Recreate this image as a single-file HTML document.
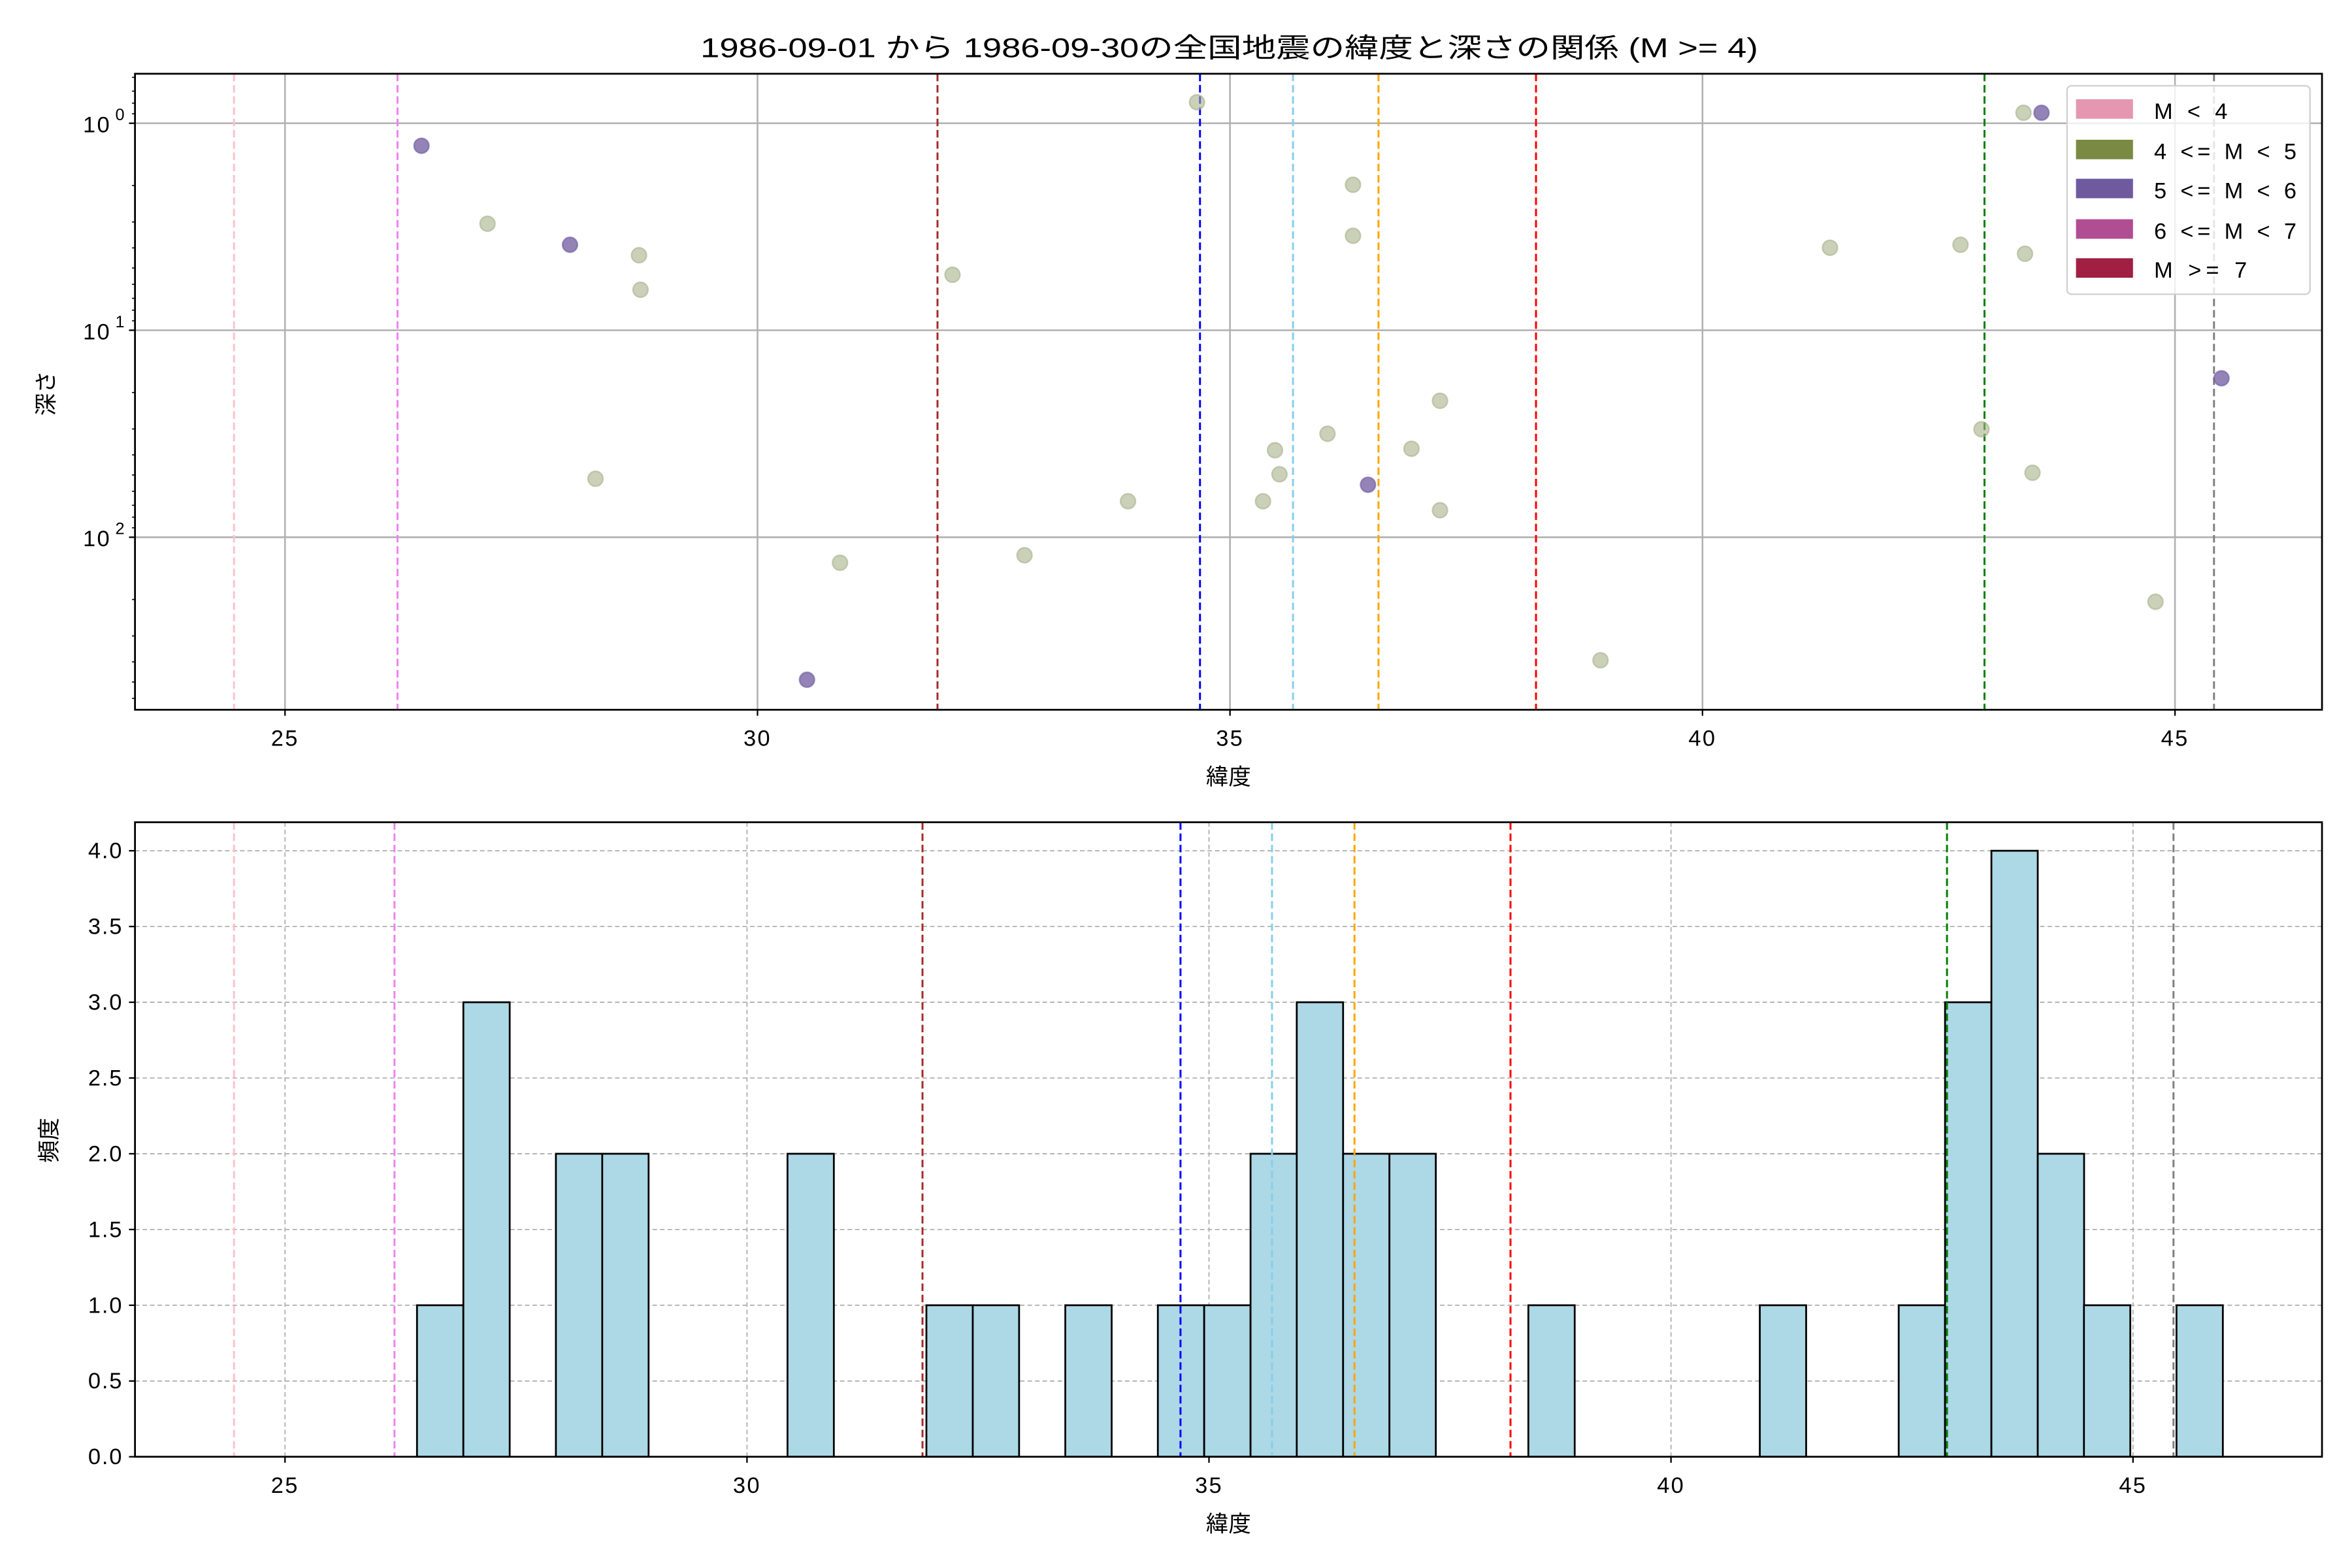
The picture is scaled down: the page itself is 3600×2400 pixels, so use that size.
<!DOCTYPE html>
<html><head><meta charset="utf-8"><style>html,body{margin:0;padding:0;background:#fff}svg{display:block}</style></head>
<body>
<svg xmlns="http://www.w3.org/2000/svg" width="3600" height="2400" viewBox="0 0 1568 1045" font-family="'Liberation Sans','Noto Sans CJK JP',sans-serif">
<rect width="1568" height="1045" fill="#fff"/>
<text x="467" y="38" font-size="18" textLength="705" lengthAdjust="spacingAndGlyphs">1986-09-01 から 1986-09-30の全国地震の緯度と深さの関係 (M &gt;= 4)</text>

<!-- TOP AXES -->
<g stroke="#b0b0b0" stroke-width="1.1">
<line x1="190" y1="49" x2="190" y2="473"/><line x1="505" y1="49" x2="505" y2="473"/><line x1="820" y1="49" x2="820" y2="473"/><line x1="1135" y1="49" x2="1135" y2="473"/><line x1="1450" y1="49" x2="1450" y2="473"/>
<line x1="90" y1="82" x2="1548" y2="82"/><line x1="90" y1="220" x2="1548" y2="220"/><line x1="90" y1="358" x2="1548" y2="358"/>
</g>
<g stroke-width="1.3" stroke-dasharray="5,2.5" fill="none">
<line x1="156" y1="49" x2="156" y2="473" stroke="pink"/>
<line x1="265" y1="49" x2="265" y2="473" stroke="violet"/>
<line x1="625" y1="49" x2="625" y2="473" stroke="brown"/>
<line x1="800" y1="49" x2="800" y2="473" stroke="blue"/>
<line x1="862" y1="49" x2="862" y2="473" stroke="skyblue"/>
<line x1="919" y1="49" x2="919" y2="473" stroke="orange"/>
<line x1="1024" y1="49" x2="1024" y2="473" stroke="red"/>
<line x1="1323" y1="49" x2="1323" y2="473" stroke="green"/>
<line x1="1476" y1="49" x2="1476" y2="473" stroke="gray"/>
</g>
<g fill="#a8b08a" fill-opacity="0.6" stroke="#a8b08a" stroke-opacity="0.6">
<circle cx="325" cy="149" r="5"/><circle cx="426" cy="170" r="5"/><circle cx="427" cy="193" r="5"/><circle cx="397" cy="319" r="5"/><circle cx="560" cy="375" r="5"/><circle cx="635" cy="183" r="5"/><circle cx="683" cy="370" r="5"/><circle cx="752" cy="334" r="5"/><circle cx="798" cy="68" r="5"/><circle cx="902" cy="123" r="5"/><circle cx="902" cy="157" r="5"/><circle cx="885" cy="289" r="5"/><circle cx="850" cy="300" r="5"/><circle cx="853" cy="316" r="5"/><circle cx="842" cy="334" r="5"/><circle cx="941" cy="299" r="5"/><circle cx="960" cy="267" r="5"/><circle cx="960" cy="340" r="5"/><circle cx="1067" cy="440" r="5"/><circle cx="1220" cy="165" r="5"/><circle cx="1307" cy="163" r="5"/><circle cx="1349" cy="75" r="5"/><circle cx="1350" cy="169" r="5"/><circle cx="1321" cy="286" r="5"/><circle cx="1355" cy="315" r="5"/><circle cx="1437" cy="401" r="5"/>
</g>
<g fill="#6f5a9f" fill-opacity="0.75" stroke="#6f5a9f" stroke-opacity="0.6">
<circle cx="281" cy="97" r="5"/><circle cx="380" cy="163" r="5"/><circle cx="538" cy="453" r="5"/><circle cx="912" cy="323" r="5"/><circle cx="1361" cy="75" r="5"/><circle cx="1481" cy="252" r="5"/>
</g>
<rect x="90" y="49" width="1458" height="424" fill="none" stroke="#000" stroke-width="1.2"/>
<g stroke="#000" stroke-width="1">
<line x1="190" y1="473" x2="190" y2="477"/><line x1="505" y1="473" x2="505" y2="477"/><line x1="820" y1="473" x2="820" y2="477"/><line x1="1135" y1="473" x2="1135" y2="477"/><line x1="1450" y1="473" x2="1450" y2="477"/>
<line x1="86" y1="82" x2="90" y2="82"/><line x1="86" y1="220" x2="90" y2="220"/><line x1="86" y1="358" x2="90" y2="358"/>
</g>
<g stroke="#000" stroke-width="0.7">
<line x1="88" y1="51.4" x2="90" y2="51.4"/><line x1="88" y1="60.6" x2="90" y2="60.6"/><line x1="88" y1="68.6" x2="90" y2="68.6"/><line x1="88" y1="75.7" x2="90" y2="75.7"/>
<line x1="88" y1="123.5" x2="90" y2="123.5"/><line x1="88" y1="147.8" x2="90" y2="147.8"/><line x1="88" y1="165.1" x2="90" y2="165.1"/><line x1="88" y1="178.5" x2="90" y2="178.5"/><line x1="88" y1="189.4" x2="90" y2="189.4"/><line x1="88" y1="198.7" x2="90" y2="198.7"/><line x1="88" y1="206.6" x2="90" y2="206.6"/><line x1="88" y1="213.7" x2="90" y2="213.7"/>
<line x1="88" y1="261.5" x2="90" y2="261.5"/><line x1="88" y1="285.8" x2="90" y2="285.8"/><line x1="88" y1="303.1" x2="90" y2="303.1"/><line x1="88" y1="316.5" x2="90" y2="316.5"/><line x1="88" y1="327.4" x2="90" y2="327.4"/><line x1="88" y1="336.7" x2="90" y2="336.7"/><line x1="88" y1="344.6" x2="90" y2="344.6"/><line x1="88" y1="351.7" x2="90" y2="351.7"/>
<line x1="88" y1="399.5" x2="90" y2="399.5"/><line x1="88" y1="423.8" x2="90" y2="423.8"/><line x1="88" y1="441.1" x2="90" y2="441.1"/><line x1="88" y1="454.5" x2="90" y2="454.5"/><line x1="88" y1="465.4" x2="90" y2="465.4"/>
</g>
<g font-size="15" text-anchor="middle" letter-spacing="1">
<text x="190" y="497">25</text><text x="505" y="497">30</text><text x="820" y="497">35</text><text x="1135" y="497">40</text><text x="1450" y="497">45</text>
</g>
<text x="819" y="523" font-size="15" text-anchor="middle">緯度</text>
<g font-size="15" text-anchor="end" letter-spacing="1">
<text x="74" y="88">10</text><text x="84" y="80" font-size="11">0</text>
<text x="74" y="226">10</text><text x="84" y="218" font-size="11">1</text>
<text x="74" y="364">10</text><text x="84" y="356" font-size="11">2</text>
</g>
<text transform="translate(36,262) rotate(-90)" font-size="15" text-anchor="middle">深さ</text>

<!-- legend -->
<rect x="1378" y="57" width="162" height="139" rx="3" fill="#fff" fill-opacity="0.8" stroke="#d0d0d0" stroke-width="1"/>
<rect x="1384" y="66" width="38" height="13" fill="#e597b2"/>
<rect x="1384" y="93" width="38" height="13" fill="#7a8a42"/>
<rect x="1384" y="119" width="38" height="13" fill="#6f5a9f"/>
<rect x="1384" y="146" width="38" height="13" fill="#b04d93"/>
<rect x="1384" y="172" width="38" height="13" fill="#a01f43"/>
<g font-size="15">
<text x="1436" y="79" textLength="49" lengthAdjust="spacing">M &lt; 4</text>
<text x="1436" y="106" textLength="95" lengthAdjust="spacing">4 &lt;= M &lt; 5</text>
<text x="1436" y="132" textLength="95" lengthAdjust="spacing">5 &lt;= M &lt; 6</text>
<text x="1436" y="159" textLength="95" lengthAdjust="spacing">6 &lt;= M &lt; 7</text>
<text x="1436" y="185" textLength="62" lengthAdjust="spacing">M &gt;= 7</text>
</g>

<!-- BOTTOM AXES -->
<g stroke="#b0b0b0" stroke-width="0.8" stroke-dasharray="3,2">
<line x1="190" y1="548" x2="190" y2="971"/><line x1="498" y1="548" x2="498" y2="971"/><line x1="806" y1="548" x2="806" y2="971"/><line x1="1114" y1="548" x2="1114" y2="971"/><line x1="1422" y1="548" x2="1422" y2="971"/>
<line x1="90" y1="920.5" x2="1548" y2="920.5"/><line x1="90" y1="870" x2="1548" y2="870"/><line x1="90" y1="819.5" x2="1548" y2="819.5"/><line x1="90" y1="769" x2="1548" y2="769"/><line x1="90" y1="718.5" x2="1548" y2="718.5"/><line x1="90" y1="668" x2="1548" y2="668"/><line x1="90" y1="617.5" x2="1548" y2="617.5"/><line x1="90" y1="567" x2="1548" y2="567"/>
</g>
<g fill="#add8e6" stroke="#000" stroke-width="1.2">
<rect x="278" y="870" width="30.9" height="101"/>
<rect x="308.9" y="668" width="30.9" height="303"/>
<rect x="370.6" y="769" width="30.9" height="202"/>
<rect x="401.5" y="769" width="30.9" height="202"/>
<rect x="525" y="769" width="30.9" height="202"/>
<rect x="617.6" y="870" width="30.9" height="101"/>
<rect x="648.5" y="870" width="30.9" height="101"/>
<rect x="710.2" y="870" width="30.9" height="101"/>
<rect x="771.9" y="870" width="30.9" height="101"/>
<rect x="802.8" y="870" width="30.9" height="101"/>
<rect x="833.7" y="769" width="30.9" height="202"/>
<rect x="864.5" y="668" width="30.9" height="303"/>
<rect x="895.4" y="769" width="30.9" height="202"/>
<rect x="926.3" y="769" width="30.9" height="202"/>
<rect x="1018.9" y="870" width="30.9" height="101"/>
<rect x="1173.2" y="870" width="30.9" height="101"/>
<rect x="1265.8" y="870" width="30.9" height="101"/>
<rect x="1296.7" y="668" width="30.9" height="303"/>
<rect x="1327.6" y="567" width="30.9" height="404"/>
<rect x="1358.5" y="769" width="30.9" height="202"/>
<rect x="1389.3" y="870" width="30.9" height="101"/>
<rect x="1451" y="870" width="30.9" height="101"/>
</g>
<g stroke-width="1.3" stroke-dasharray="5,2.5" fill="none">
<line x1="156" y1="548" x2="156" y2="971" stroke="pink"/>
<line x1="263" y1="548" x2="263" y2="971" stroke="violet"/>
<line x1="615" y1="548" x2="615" y2="971" stroke="brown"/>
<line x1="787" y1="548" x2="787" y2="971" stroke="blue"/>
<line x1="848" y1="548" x2="848" y2="971" stroke="skyblue"/>
<line x1="903" y1="548" x2="903" y2="971" stroke="orange"/>
<line x1="1007" y1="548" x2="1007" y2="971" stroke="red"/>
<line x1="1298" y1="548" x2="1298" y2="971" stroke="green"/>
<line x1="1449" y1="548" x2="1449" y2="971" stroke="gray"/>
</g>
<rect x="90" y="548" width="1458" height="423" fill="none" stroke="#000" stroke-width="1.2"/>
<g stroke="#000" stroke-width="1">
<line x1="190" y1="971" x2="190" y2="975"/><line x1="498" y1="971" x2="498" y2="975"/><line x1="806" y1="971" x2="806" y2="975"/><line x1="1114" y1="971" x2="1114" y2="975"/><line x1="1422" y1="971" x2="1422" y2="975"/>
<line x1="86" y1="971" x2="90" y2="971"/><line x1="86" y1="920.5" x2="90" y2="920.5"/><line x1="86" y1="870" x2="90" y2="870"/><line x1="86" y1="819.5" x2="90" y2="819.5"/><line x1="86" y1="769" x2="90" y2="769"/><line x1="86" y1="718.5" x2="90" y2="718.5"/><line x1="86" y1="668" x2="90" y2="668"/><line x1="86" y1="617.5" x2="90" y2="617.5"/><line x1="86" y1="567" x2="90" y2="567"/>
</g>
<g font-size="15" text-anchor="middle" letter-spacing="1">
<text x="190" y="995">25</text><text x="498" y="995">30</text><text x="806" y="995">35</text><text x="1114" y="995">40</text><text x="1422" y="995">45</text>
</g>
<text x="819" y="1021" font-size="15" text-anchor="middle">緯度</text>
<g font-size="15" text-anchor="end" letter-spacing="0.8">
<text x="82" y="976">0.0</text><text x="82" y="925.5">0.5</text><text x="82" y="875">1.0</text><text x="82" y="824.5">1.5</text><text x="82" y="774">2.0</text><text x="82" y="723.5">2.5</text><text x="82" y="673">3.0</text><text x="82" y="622.5">3.5</text><text x="82" y="572">4.0</text>
</g>
<text transform="translate(38,760) rotate(-90)" font-size="15" text-anchor="middle">頻度</text>
</svg>
</body></html>
